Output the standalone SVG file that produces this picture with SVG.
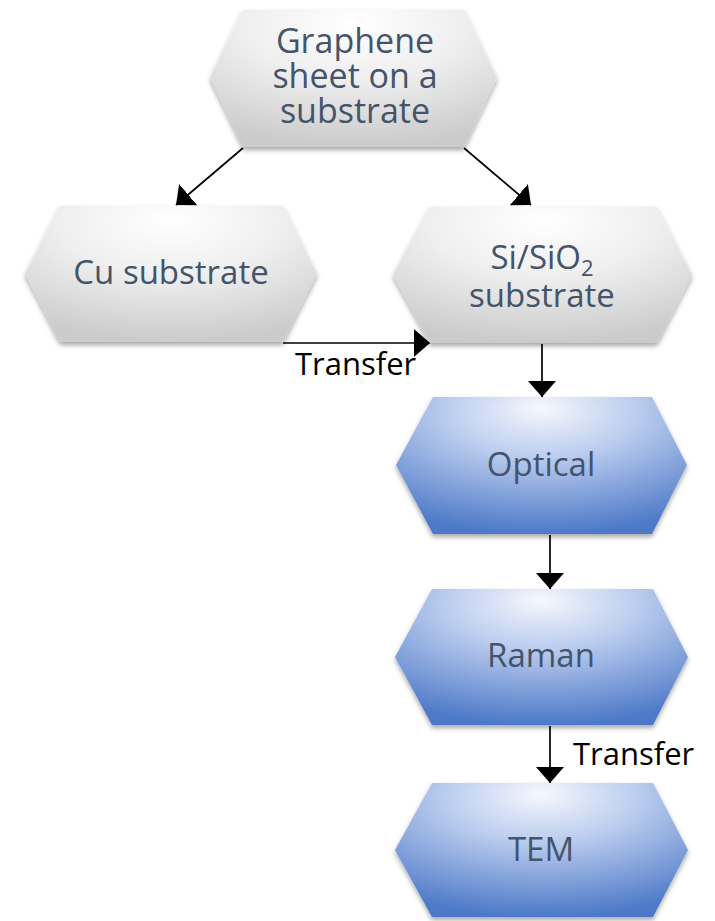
<svg xmlns="http://www.w3.org/2000/svg" width="715" height="921" viewBox="0 0 715 921">
  <defs>
    <radialGradient id="grayFill" cx="50%" cy="15%" r="85%" fx="50%" fy="10%">
      <stop offset="0" stop-color="#ffffff"/>
      <stop offset="0.45" stop-color="#efefef"/>
      <stop offset="1" stop-color="#cbcbcb"/>
    </radialGradient>
    <radialGradient id="blueFill" cx="50%" cy="15%" r="85%" fx="50%" fy="8%">
      <stop offset="0" stop-color="#f6f8fd"/>
      <stop offset="0.4" stop-color="#b9cbee"/>
      <stop offset="1" stop-color="#4d79c8"/>
    </radialGradient>
    <filter id="shadow" x="-10%" y="-10%" width="120%" height="130%">
      <feDropShadow dx="0" dy="3" stdDeviation="2.5" flood-color="#000000" flood-opacity="0.35"/>
    </filter>
    <marker id="arrow" viewBox="0 0 16 28" refX="16" refY="14" markerWidth="16" markerHeight="28" markerUnits="userSpaceOnUse" orient="auto">
      <path d="M0,0 L16,14 L0,28 Z" fill="#000000"/>
    </marker>
  </defs>
  <style>
    .gray { fill: url(#grayFill); filter: url(#shadow); }
    .blue { fill: url(#blueFill); filter: url(#shadow); }
    .label { font-family: "Open Sans", "Noto Sans", sans-serif; font-size: 33px; fill: #44546A; text-anchor: middle; }
    .note { font-family: "Open Sans", "Noto Sans", sans-serif; font-size: 31px; fill: #000000; }
    .edge { stroke: #000000; stroke-width: 1.7; fill: none; marker-end: url(#arrow); }
  </style>

  <g id="connectors">
    <line class="edge" x1="243" y1="148" x2="176" y2="205"/>
    <line class="edge" x1="464" y1="148" x2="531" y2="205"/>
    <line class="edge" x1="283" y1="343" x2="430" y2="343"/>
    <line class="edge" x1="542" y1="344" x2="542" y2="397"/>
    <line class="edge" x1="550" y1="535" x2="550" y2="589"/>
    <line class="edge" x1="550" y1="726" x2="550" y2="783"/>
    <text class="note" x="295" y="375">Transfer</text>
    <text class="note" x="573" y="765">Transfer</text>
  </g>

  <g id="graphene">
    <polygon class="gray" points="210,78 243,10 464,10 497,78 464,147 243,147"/>
    <text class="label" x="355" y="53" style="font-size:34px">Graphene</text>
    <text class="label" x="355" y="88" style="font-size:34px">sheet on a</text>
    <text class="label" x="355" y="123" style="font-size:34px">substrate</text>
  </g>

  <g id="cu">
    <polygon class="gray" points="25,274 60,206 283,206 317,274 283,342 60,342"/>
    <text class="label" x="171" y="284">Cu substrate</text>
  </g>

  <g id="si">
    <polygon class="gray" points="393,275 430,207 657,207 692,275 657,343 430,343"/>
    <text class="label" x="542" y="269">Si/SiO<tspan dy="7" style="font-size:22px">2</tspan></text>
    <text class="label" x="542" y="307">substrate</text>
  </g>

  <g id="optical">
    <polygon class="blue" points="396,465 433,397 652,397 687,465 652,534 433,534"/>
    <text class="label" x="541" y="476">Optical</text>
  </g>

  <g id="raman">
    <polygon class="blue" points="395,657 432,589 653,589 688,657 653,725 432,725"/>
    <text class="label" x="541" y="667">Raman</text>
  </g>

  <g id="tem">
    <polygon class="blue" points="395,850 432,783 653,783 688,850 653,917 432,917"/>
    <text class="label" x="541" y="861">TEM</text>
  </g>
</svg>
